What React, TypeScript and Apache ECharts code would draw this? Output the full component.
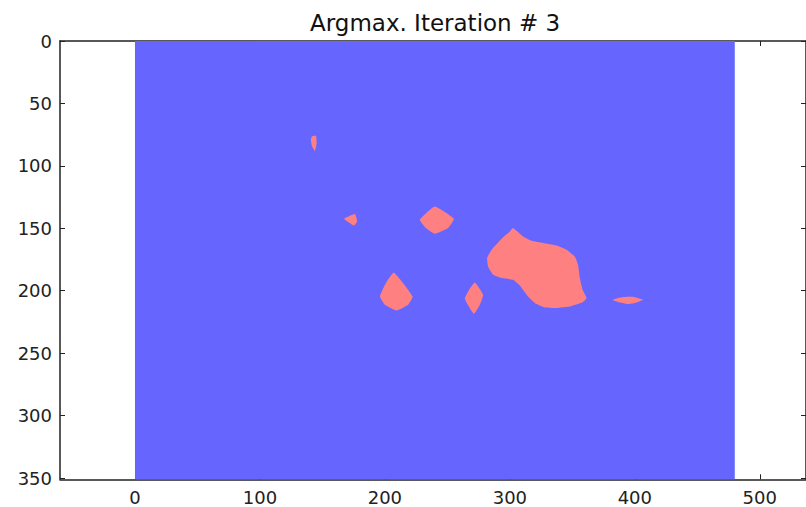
import React, { useEffect, useRef } from "react";
import * as echarts from "echarts";

const titleText = "Argmax. Iteration # 3";
const xTicks = [0, 100, 200, 300, 400, 500];
const yTicks = [0, 50, 100, 150, 200, 250, 300, 350];
const imageExtent = [0, 0, 480, 351]; // x0, y0, x1, y1 of the argmax image

// red (class 1) regions, outlines in image coordinates [x, y]
const blobBig = [
  [302.6, 149.8], [310.6, 156.6], [317.4, 160], [326.6, 161.8], [337.4, 163.8],
  [345.4, 167.2], [352, 172.6], [354.6, 179.2], [356, 189.8], [358.2, 199.2],
  [361.4, 205.8], [358.6, 209], [348, 212.6], [337.4, 213.8], [328, 213.4],
  [320, 209.8], [314.6, 204.6], [308, 195.8], [302.6, 191.2], [293.4, 189.8],
  [286.6, 187.2], [282.6, 180.6], [281.8, 173.8], [285.4, 167.2], [293.4, 158.4],
  [300, 152.6],
];
const blobDiamondLow = [
  [272, 193.4], [278.6, 203.2], [276, 211.2], [271.2, 218.4], [264, 206.4], [267.4, 199.2],
];
const blobDiamondHigh = [
  [240, 132.6], [255.2, 142.4], [250.6, 149.8], [240, 154.4], [232.8, 149.8], [228, 143.2],
];
const blobTriangle = [
  [207.2, 185.4], [222.2, 204.6], [218.6, 211.2], [209.4, 215.8], [200, 211.2],
  [196, 204.6], [200.8, 193.8],
];
const blobSmallTri = [
  [167.4, 142.4], [176, 138.6], [177.8, 144.6], [175.2, 147.8],
];
const blobSliver = [
  [141.4, 76.6], [144.8, 75.8], [145.4, 81.8], [144, 88], [141.6, 84], [140.8, 79.2],
];
const blobStreak = [
  [382.2, 207.2], [390.6, 205], [398.6, 204.8], [406.6, 207.2], [400, 209.8],
  [394.6, 210.6], [386.6, 209],
];
const blobs = [blobBig, blobDiamondLow, blobDiamondHigh, blobTriangle, blobSmallTri, blobSliver, blobStreak];

const BLUE = "#6666ff";
const RED = "#ff8080";
const FONT = "DejaVu Sans";

export default function App() {
  const ref = useRef<HTMLDivElement>(null);
  useEffect(() => {
    if (!ref.current) return;
    const chart = echarts.init(ref.current, undefined, { renderer: "svg" });
    const axisLine = { show: true, onZero: false, lineStyle: { color: "#222", width: 1.5 } };
    const tickStyle = { inside: true, length: 5, lineStyle: { color: "#222", width: 1 } };
    chart.setOption({
      animation: false,
      backgroundColor: "#ffffff",
      title: {
        text: titleText,
        left: 305,
        top: 6,
        textStyle: { fontFamily: FONT, fontSize: 23, fontWeight: "normal", color: "#111" },
      },
      grid: { left: 60, top: 41, right: 0, bottom: 27.7, containLabel: false },
      xAxis: [
        {
          type: "value", position: "bottom", min: -60, max: 537,
          axisLine, splitLine: { show: false },
          axisTick: { ...tickStyle, customValues: xTicks },
          axisLabel: { customValues: xTicks, fontFamily: FONT, fontSize: 18, color: "#222", margin: 9 },
        },
        {
          type: "value", position: "top", min: -60, max: 537,
          axisLine, splitLine: { show: false },
          axisTick: { ...tickStyle, customValues: xTicks },
          axisLabel: { show: false },
        },
      ],
      yAxis: [
        {
          type: "value", position: "left", inverse: true, min: 0, max: 351,
          axisLine, splitLine: { show: false },
          axisTick: { ...tickStyle, customValues: yTicks },
          axisLabel: { customValues: yTicks, fontFamily: FONT, fontSize: 18, color: "#222", margin: 8 },
        },
        {
          type: "value", position: "right", inverse: true, min: 0, max: 351,
          axisLine, splitLine: { show: false },
          axisTick: { ...tickStyle, customValues: yTicks },
          axisLabel: { show: false },
        },
      ],
      series: [
        {
          type: "custom",
          xAxisIndex: 0,
          yAxisIndex: 0,
          z: 1,
          data: [imageExtent],
          renderItem: (params: any, api: any) => {
            const p0 = api.coord([api.value(0), api.value(1)]);
            const p1 = api.coord([api.value(2), api.value(3)]);
            return {
              type: "rect",
              shape: { x: Math.min(p0[0], p1[0]), y: Math.min(p0[1], p1[1]), width: Math.abs(p1[0] - p0[0]), height: Math.abs(p1[1] - p0[1]) },
              style: { fill: BLUE },
            };
          },
        },
        {
          type: "custom",
          xAxisIndex: 0,
          yAxisIndex: 0,
          z: 2,
          data: blobs.map((b, i) => [b[0][0], b[0][1], i]),
          renderItem: (params: any, api: any) => {
            const pts = blobs[params.dataIndex].map((p) => api.coord(p));
            return {
              type: "polygon",
              shape: { points: pts, smooth: 0.12 },
              style: { fill: RED },
            };
          },
        },
      ],
    });
    return () => chart.dispose();
  }, []);
  return (
    <div
      ref={ref}
      style={{ position: "fixed", left: 0, top: 0, width: 806, height: 507, background: "#fff" }}
    />
  );
}
